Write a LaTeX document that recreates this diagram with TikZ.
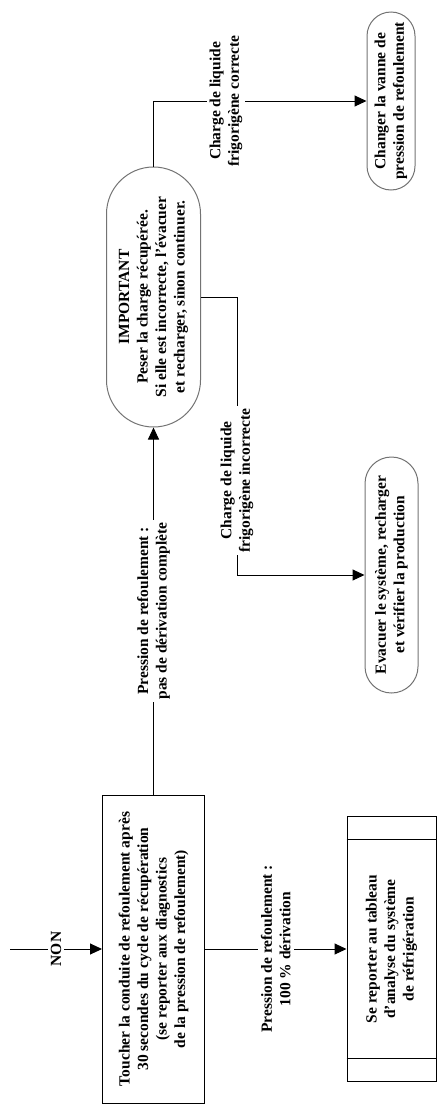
\documentclass[tikz,border=0pt]{standalone}
\usepackage{fontspec}
\setmainfont{Liberation Serif}
\usetikzlibrary{arrows.meta,calc}
\begin{document}
\begin{tikzpicture}[x=1pt,y=-1pt,
  every node/.style={font=\bfseries\fontsize{15.5}{18.5}\selectfont, align=center},
  box/.style={draw, line width=1pt, rotate=90, inner sep=0pt},
  stad/.style={draw=black!55, line width=1pt, rotate=90, inner sep=0pt},
  lbl/.style={fill=white, rotate=90, inner sep=3pt},
  arr/.style={-{Triangle[length=12pt,width=11pt]}, line width=1pt}
]
\useasboundingbox (0,0) rectangle (442,1106);

\node[box, minimum width=308pt, minimum height=102pt] (touch) at (153.5,949)
  {Toucher la conduite de refoulement après\\30 secondes du cycle de récupération\\(se reporter aux diagnostics\\de la pression de refoulement)};

\node[stad, rounded corners=47pt, minimum width=260pt, minimum height=94pt] (imp) at (153.5,297)
  {IMPORTANT\\Peser la charge récupérée.\\Si elle est incorrecte, l'évacuer\\et recharger, sinon continuer.};

\node[stad, rounded corners=24pt, minimum width=178pt, minimum height=48pt] (change) at (391,101)
  {Changer la vanne de\\pression de refoulement};

\node[stad, rounded corners=26.5pt, minimum width=236pt, minimum height=53pt] (evac) at (391.5,575)
  {Evacuer le système, recharger\\et vérifier la production};

\node[box, minimum width=265pt, minimum height=89pt] (report) at (391.5,949)
  {Se reporter au tableau\\d'analyse du système\\de réfrigération};
\draw[line width=1pt] ($(report.north west)!0.087!(report.north east)$) -- ($(report.south west)!0.087!(report.south east)$);
\draw[line width=1pt] ($(report.north east)!0.087!(report.north west)$) -- ($(report.south east)!0.087!(report.south west)$);

\coordinate (nonS) at (10,949);
\draw[arr] (nonS) -- node[lbl]{NON} (touch.north);

\draw[arr] (touch.south) -- node[lbl]{Pression de refoulement :\\100 \% dérivation} (report.north);

\draw[arr] (touch.east) -- node[lbl]{Pression de refoulement :\\pas de dérivation complète} (imp.west);

\draw[arr] (imp.east) |- node[lbl, pos=0.67]{Charge de liquide\\frigorigène correcte} (change.north);

\coordinate (j) at (237,297);
\draw[arr] (imp.south) -- (j) |- node[lbl, pos=0.33]{Charge de liquide\\frigorigène incorrecte} (evac.north);
\end{tikzpicture}
\end{document}
